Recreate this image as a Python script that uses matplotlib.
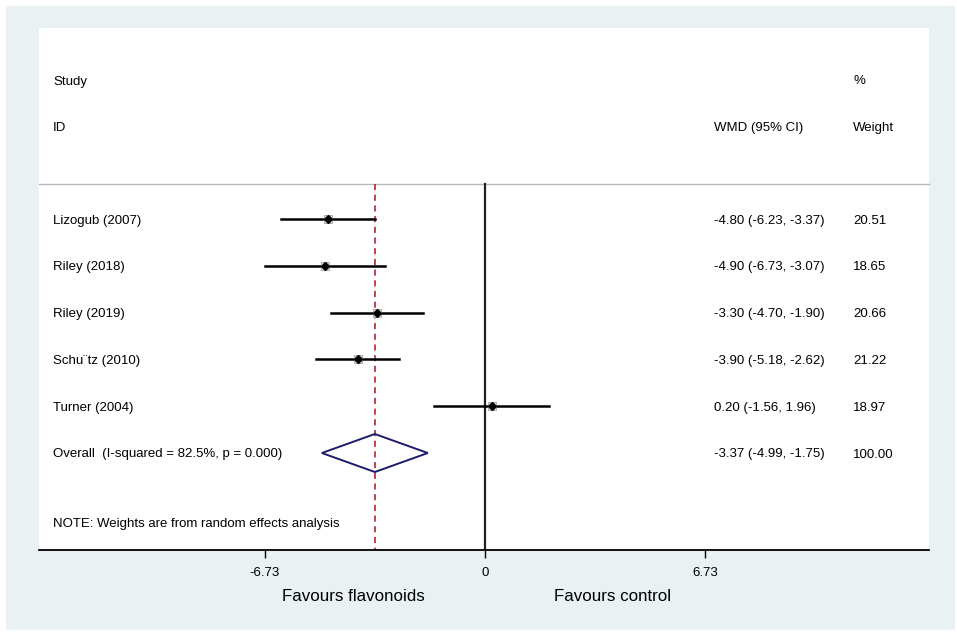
import matplotlib
matplotlib.use("Agg")
import matplotlib.pyplot as plt
from matplotlib.patches import Rectangle, Polygon
import matplotlib.transforms as mtransforms

plt.rcParams['font.family'] = ['Liberation Sans', 'DejaVu Sans']

studies = ["Lizogub (2007)", "Riley (2018)", "Riley (2019)", "Schu\u00a8tz (2010)", "Turner (2004)"]
wmd = [-4.80, -4.90, -3.30, -3.90, 0.20]
lower = [-6.23, -6.73, -4.70, -5.18, -1.56]
upper = [-3.37, -3.07, -1.90, -2.62, 1.96]
weights = [20.51, 18.65, 20.66, 21.22, 18.97]
overall_label = "Overall  (I-squared = 82.5%, p = 0.000)"
overall = -3.37
overall_lo = -4.99
overall_hi = -1.75
overall_weight = 100.00
xticks = [-6.73, 0, 6.73]
xtick_labels = ["-6.73", "0", "6.73"]

W, H = 957, 636
fig = plt.figure(figsize=(W / 100, H / 100), dpi=100)
fig.patch.set_facecolor('white')
bg = Rectangle((6 / W, (H - 630) / H), (955 - 6) / W, (630 - 6) / H,
               transform=fig.transFigure, facecolor='#e9f1f3',
               edgecolor='none', zorder=-10)
fig.add_artist(bg)

ax_l, ax_r, ax_t, ax_b = 39, 929, 28, 550
ax = fig.add_axes([ax_l / W, (H - ax_b) / H, (ax_r - ax_l) / W, (ax_b - ax_t) / H])
ax.set_zorder(1)
ax.set_facecolor('white')

px_per_unit = 32.69
x0_px = 485
ax.set_xlim((ax_l - x0_px) / px_per_unit, (ax_r - x0_px) / px_per_unit)
row_px = 46.8
first_row_px = 219
top = -(first_row_px - ax_t) / row_px
bottom = top + (ax_b - ax_t) / row_px
ax.set_ylim(bottom, top)

def ypos(px):
    return top + (px - ax_t) / row_px

for s in ['top', 'left', 'right']:
    ax.spines[s].set_visible(False)
ax.spines['bottom'].set_linewidth(1.3)
ax.spines['bottom'].set_color('black')
ax.set_yticks([])
ax.set_xticks(xticks)
ax.set_xticklabels(xtick_labels, fontsize=9.5)
ax.tick_params(axis='x', length=6, width=1.0, pad=6, direction='out')

blend = mtransforms.blended_transform_factory(ax.transAxes, ax.transData)
sep_y = ypos(184)
ax.plot([0, 1], [sep_y, sep_y], transform=blend, color='#b8b8b8', lw=1.0, clip_on=False)

# reference lines
ax.plot([0, 0], [sep_y, bottom], color='#222222', lw=1.6, zorder=2)
ax.plot([overall, overall], [sep_y, bottom], color='#a8141c', lw=1.1,
        linestyle=(0, (4, 3)), zorder=2)

fs = 9.5
VA = 'center_baseline'
x_study = (53 - ax_l) / (ax_r - ax_l)
x_wmd = (714 - ax_l) / (ax_r - ax_l)
x_wt = (853 - ax_l) / (ax_r - ax_l)

ax.text(x_study, ypos(80), "Study", transform=blend, fontsize=fs, va=VA)
ax.text(x_study, ypos(126), "ID", transform=blend, fontsize=fs, va=VA)
ax.text(x_wt, ypos(80), "%", transform=blend, fontsize=fs, va=VA)
ax.text(x_wmd, ypos(126), "WMD (95% CI)", transform=blend, fontsize=fs, va=VA)
ax.text(x_wt, ypos(126), "Weight", transform=blend, fontsize=fs, va=VA)

for i, (name, m, lo, hi, w) in enumerate(zip(studies, wmd, lower, upper, weights)):
    ax.plot([lo, hi], [i, i], color='black', lw=1.8, zorder=3)
    ax.plot([m], [i], marker='s', ms=6, mfc='#e6e6e6', mec='#a0a0a0', mew=0.6,
            linestyle='none', zorder=4)
    ax.plot([m], [i], marker='D', ms=4.2, color='black', linestyle='none', zorder=5)
    ax.text(x_study, i, name, transform=blend, fontsize=fs, va=VA)
    ax.text(x_wmd, i, f"{m:.2f} ({lo:.2f}, {hi:.2f})", transform=blend, fontsize=fs, va=VA)
    ax.text(x_wt, i, f"{w:.2f}", transform=blend, fontsize=fs, va=VA)

k = len(studies)
half_h = 19 / row_px
diamond = Polygon([[overall_lo, k], [overall, k - half_h], [overall_hi, k], [overall, k + half_h]],
                  closed=True, facecolor='none', edgecolor='#1c1c6b', lw=1.4, zorder=4)
ax.add_patch(diamond)
ax.text(x_study, k, overall_label, transform=blend, fontsize=fs, va=VA)
ax.text(x_wmd, k, f"{overall:.2f} ({overall_lo:.2f}, {overall_hi:.2f})", transform=blend, fontsize=fs, va=VA)
ax.text(x_wt, k, f"{overall_weight:.2f}", transform=blend, fontsize=fs, va=VA)

ax.text(x_study, ypos(523), "NOTE: Weights are from random effects analysis", transform=blend,
        fontsize=fs, va=VA)

fblend = mtransforms.blended_transform_factory(ax.transData, fig.transFigure)
ax.text((353 - x0_px) / px_per_unit, (H - 595) / H, "Favours flavonoids", transform=fblend,
        fontsize=12.2, ha='center', va=VA, clip_on=False)
ax.text((612 - x0_px) / px_per_unit, (H - 595) / H, "Favours control", transform=fblend,
        fontsize=12.2, ha='center', va=VA, clip_on=False)

fig.savefig("out.png", dpi=100, facecolor=fig.get_facecolor())
